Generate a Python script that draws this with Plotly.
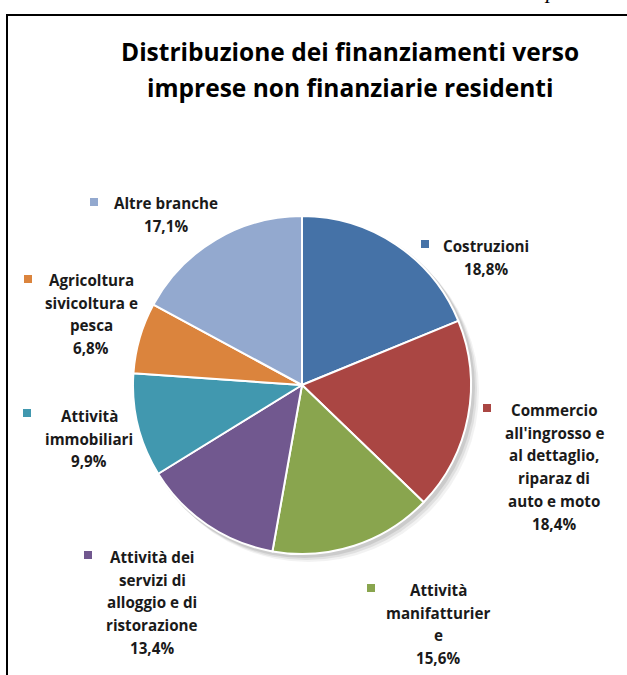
import plotly.graph_objects as go

W, H = 627, 675

# ── Data ─────────────────────────────────────────────────────────────────────
LABELS = [
    "Costruzioni",
    "Commercio all'ingrosso e al dettaglio, riparaz di auto e moto",
    "Attività manifatturiere",
    "Attività dei servizi di alloggio e di ristorazione",
    "Attività immobiliari",
    "Agricoltura sivicoltura e pesca",
    "Altre branche",
]
# how each label wraps in the original chart
LABEL_LINES = [
    ["Costruzioni"],
    ["Commercio", "all'ingrosso e", "al dettaglio,", "riparaz di", "auto e moto"],
    ["Attività", "manifatturier", "e"],
    ["Attività dei", "servizi di", "alloggio e di", "ristorazione"],
    ["Attività", "immobiliari"],
    ["Agricoltura", "sivicoltura e", "pesca"],
    ["Altre branche"],
]
VALUES = [18.8, 18.4, 15.6, 13.4, 9.9, 6.8, 17.1]
COLORS = ["#4572A7", "#AA4643", "#89A54E", "#71588F", "#4198AF", "#DB843D", "#93A9CF"]

TITLE_LINES = ["Distribuzione dei finanziamenti verso", "imprese non finanziarie residenti"]

# label placement in pixels: (text centre x, first line y, marker x, marker y)
LABEL_POS = [
    (486, 246, 425, 244),
    (554, 410, 487, 408),
    (438, 590, 371, 588),
    (152, 557, 88, 555),
    (89, 416, 27, 413),
    (91, 280, 28, 279),
    (166, 203, 94, 202),
]
LINE_H = 22.7
FONT = "Open Sans, Arial, sans-serif"


def px(x):
    return x / W


def py(y):
    return 1 - y / H


# pie geometry (pixels)
CX, CY, R = 302, 385, 169

fig = go.Figure(go.Pie(
    labels=LABELS,
    values=VALUES,
    sort=False,
    direction="clockwise",
    rotation=0,
    marker=dict(colors=COLORS, line=dict(color="white", width=2)),
    textinfo="none",
    hoverinfo="label+percent",
    showlegend=False,
    domain=dict(x=[px(CX - R), px(CX + R)], y=[py(CY + R), py(CY - R)]),
))

shapes = []
# soft shadow behind the pie
for off, op in [(7, 0.05), (5, 0.07), (3, 0.09)]:
    shapes.append(dict(
        type="circle", xref="paper", yref="paper", layer="below",
        x0=px(CX - R + off - 2), x1=px(CX + R + off + 1),
        y0=py(CY + R + off + 1), y1=py(CY - R + off - 2),
        fillcolor=f"rgba(0,0,0,{op})", line=dict(width=0),
    ))
# frame
shapes.append(dict(type="line", xref="paper", yref="paper",
                   x0=px(7), x1=px(7), y0=py(H), y1=py(15),
                   line=dict(color="black", width=2)))
shapes.append(dict(type="line", xref="paper", yref="paper",
                   x0=px(6), x1=px(W), y0=py(15), y1=py(15),
                   line=dict(color="black", width=2)))

annotations = []
for i, line in enumerate(TITLE_LINES):
    annotations.append(dict(
        xref="paper", yref="paper", x=px(350), y=py(52 + i * 36),
        xanchor="center", yanchor="middle", showarrow=False, text=line,
        font=dict(family=FONT, size=24.5, color="black", weight="bold"),
    ))

for lines, val, col, (tx, ty, mx, my) in zip(LABEL_LINES, VALUES, COLORS, LABEL_POS):
    text_lines = lines + [f"{val:.1f}".replace(".", ",") + "%"]
    for i, line in enumerate(text_lines):
        annotations.append(dict(
            xref="paper", yref="paper", x=px(tx), y=py(ty + i * LINE_H),
            xanchor="center", yanchor="middle", showarrow=False, text=line,
            font=dict(family=FONT, size=15.2, color="#1a1a1a", weight="bold"),
        ))
    s = 4
    shapes.append(dict(type="rect", xref="paper", yref="paper",
                       x0=px(mx - s), x1=px(mx + s), y0=py(my + s), y1=py(my - s),
                       fillcolor=col, line=dict(width=0)))

# fragment of page text cut at the top edge
annotations.append(dict(
    xref="paper", yref="paper", x=px(550), y=py(-9), xanchor="center", yanchor="middle",
    showarrow=False, text="<i>p</i>",
    font=dict(family="Liberation Serif, serif", size=22, color="black"),
))

fig.update_layout(
    width=W, height=H,
    margin=dict(l=0, r=0, t=0, b=0),
    paper_bgcolor="white",
    plot_bgcolor="white",
    shapes=shapes,
    annotations=annotations,
)

# page body margin would shift the figure by 8px
fig.write_html("out.html", config={"displayModeBar": False},
               post_script="document.body.style.margin='0px';")
